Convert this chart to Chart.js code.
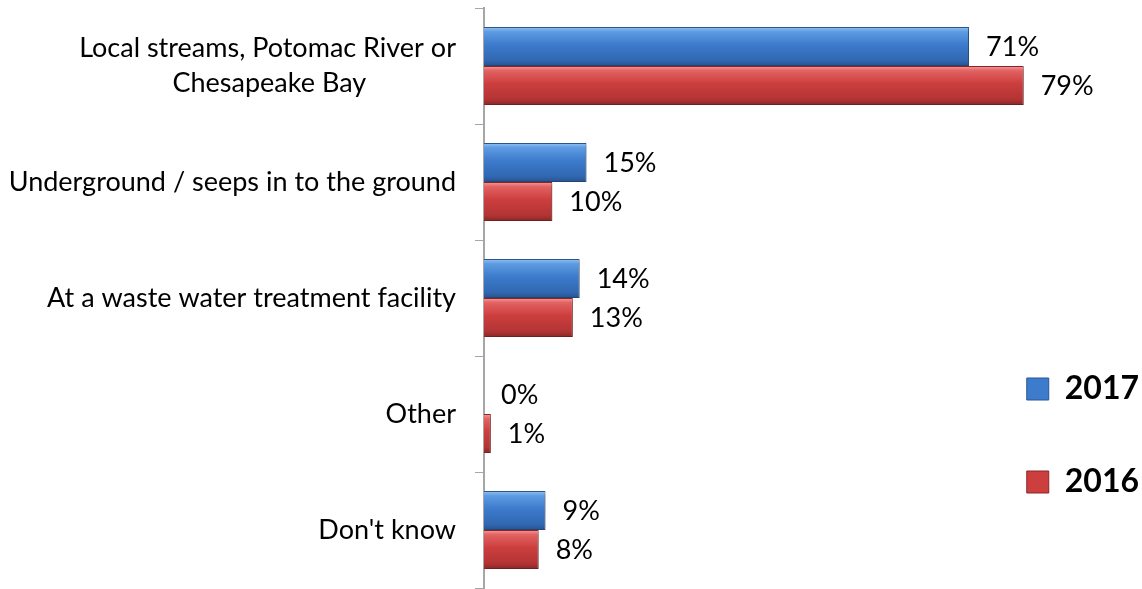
<!DOCTYPE html>
<html>
<head>
<meta charset="utf-8">
<title>Where does stormwater go?</title>
<script src="https://cdn.jsdelivr.net/npm/chart.js@4.4.1/dist/chart.umd.min.js"></script>
<style>
  html, body { margin: 0; padding: 0; background: #fff; }
  #wrap { width: 1142px; height: 589px; position: relative; }
</style>
</head>
<body>
<div id="wrap"><canvas id="chart"></canvas></div>
<script>
// survey answers, one entry per category (top to bottom)
const categories = [
  ['Local streams, Potomac River or', 'Chesapeake Bay'],
  'Underground / seeps in to the ground',
  'At a waste water treatment facility',
  'Other',
  "Don't know"
];
const values2017 = [71, 15, 14, 0, 9];
const values2016 = [79, 10, 13, 1, 8];

const FONT = 'Lato, "Open Sans", sans-serif';
const LABEL_SIZE = 27;

// colour stops for the shiny bars: [top highlight, upper, middle, lower, bottom edge]
const blueStops = ['#93c2f3', '#5e9ce2', '#3d7bcc', '#3168b2', '#27528d'];
const redStops  = ['#f59c9c', '#e26262', '#cd3e3e', '#b33434', '#8b2727'];

// pad the shorter lines with spaces so a right-aligned multi-line label looks centred
function centerLines(lines, font){
  const c = document.createElement('canvas').getContext('2d');
  c.font = font;
  const widths = lines.map(l => c.measureText(l).width);
  const widest = Math.max(...widths);
  const space = c.measureText(' ').width;
  return lines.map((l, i) => l + ' '.repeat(Math.round((widest - widths[i]) / 2 / space)));
}

const labelFont = LABEL_SIZE + 'px ' + FONT;
const yLabels = categories.map(c => Array.isArray(c) ? centerLines(c, labelFont) : c);

// vertical gradient for every bar, built from where the bar actually sits
const glossPlugin = {
  id: 'gloss',
  beforeDatasetDraw(chart, args){
    const ctx = chart.ctx;
    const stops = args.index === 0 ? blueStops : redStops;
    args.meta.data.forEach(el => {
      const top = el.y - el.height / 2, bottom = el.y + el.height / 2;
      const g = ctx.createLinearGradient(0, top, 0, bottom);
      g.addColorStop(0, stops[0]);
      g.addColorStop(0.12, stops[1]);
      g.addColorStop(0.45, stops[2]);
      g.addColorStop(0.85, stops[3]);
      g.addColorStop(1, stops[4]);
      el.options = Object.assign({}, el.options, { backgroundColor: g });
    });
    ctx.save();
    ctx.shadowColor = 'rgba(0,0,0,0.28)';
    ctx.shadowBlur = 4;
    ctx.shadowOffsetX = 2;
    ctx.shadowOffsetY = 2;
  },
  afterDatasetDraw(chart){
    chart.ctx.restore();
  }
};

// percentage labels to the right of each bar
const valueLabels = {
  id: 'valueLabels',
  afterDatasetsDraw(chart){
    const ctx = chart.ctx;
    ctx.save();
    ctx.font = labelFont;
    ctx.fillStyle = '#000';
    ctx.textAlign = 'left';
    ctx.textBaseline = 'middle';
    chart.data.datasets.forEach((ds, di) => {
      chart.getDatasetMeta(di).data.forEach((el, i) => {
        ctx.fillText(ds.data[i] + '%', el.x + 17, el.y + 1);
      });
    });
    ctx.restore();
  }
};

// move the legend down next to the lower categories and close to the right edge
const legendOffset = {
  id: 'legendOffset',
  afterLayout(chart){
    const lg = chart.legend;
    if (!lg) return;
    lg.top = 312;
    lg.left += 9;
    lg.right += 9;
  }
};

new Chart(document.getElementById('chart'), {
  type: 'bar',
  data: {
    labels: yLabels,
    datasets: [
      { label: '2017', data: values2017, backgroundColor: '#3d7bcc', borderColor: '#2a5793',
        borderWidth: ctx => ctx.raw === 0 ? 0 : 1, clip: false },
      { label: '2016', data: values2016, backgroundColor: '#cd3e3e', borderColor: '#8b2727',
        borderWidth: ctx => ctx.raw === 0 ? 0 : 1, clip: false }
    ]
  },
  options: {
    indexAxis: 'y',
    responsive: true,
    maintainAspectRatio: false,
    animation: false,
    categoryPercentage: 0.672,
    barPercentage: 1.0,
    layout: { padding: { top: 8, bottom: 1, left: 0, right: 2 } },
    scales: {
      x: { display: false, min: 0, max: 69.2 },
      y: {
        afterFit(scale){
          scale.width = 484;
          // the tick labels sit inside their bands, no extra room above/below needed
          scale.paddingTop = 0;
          scale.paddingBottom = 0;
        },
        grid: { offset: true, drawOnChartArea: false, tickLength: 9, color: '#a6a6a6', lineWidth: 1 },
        border: { display: true, color: '#a6a6a6', width: 2 },
        ticks: {
          color: '#000',
          padding: 19,
          font: { family: FONT, size: LABEL_SIZE, lineHeight: 1.3 }
        }
      }
    },
    plugins: {
      tooltip: { enabled: false },
      legend: {
        position: 'right',
        align: 'start',
        labels: {
          color: '#000',
          boxWidth: 22,
          boxHeight: 22,
          padding: 61,
          font: { family: FONT, size: 32, weight: 'bold' }
        }
      }
    }
  },
  plugins: [glossPlugin, valueLabels, legendOffset]
});
</script>
</body>
</html>
